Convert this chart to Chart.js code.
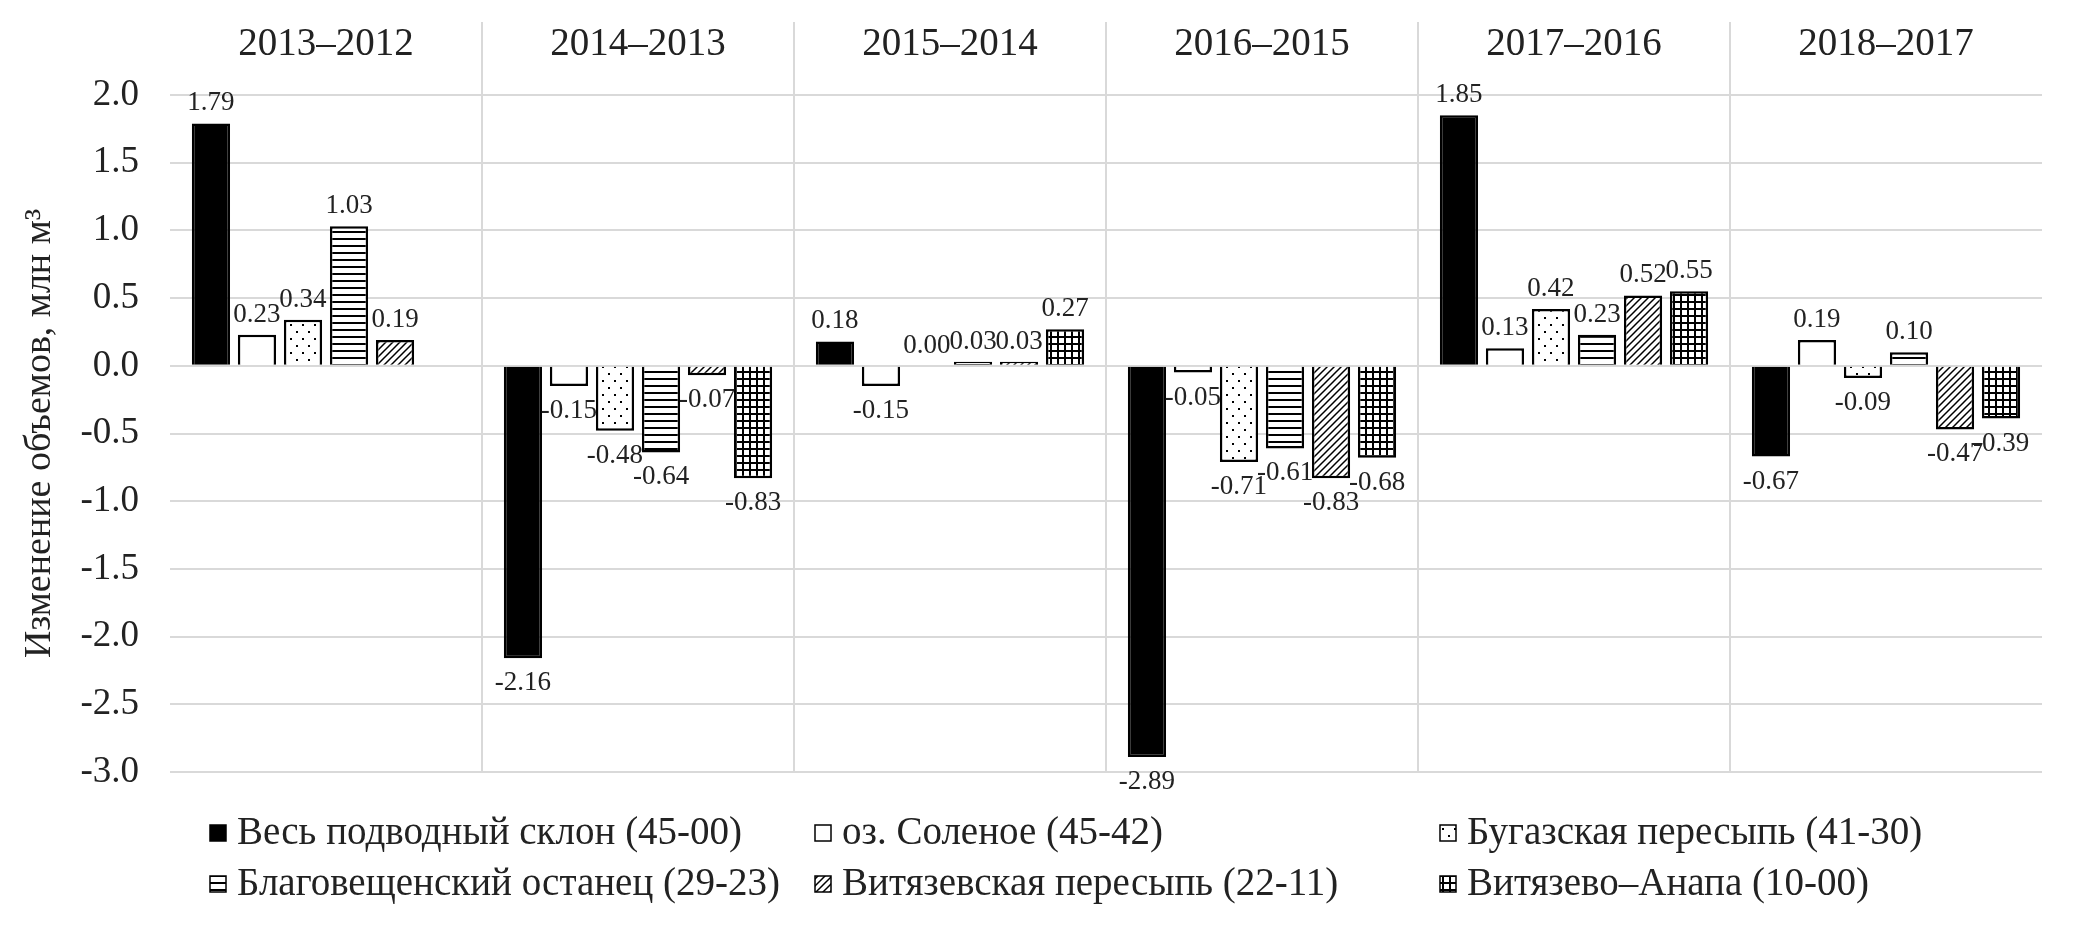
<!DOCTYPE html>
<html>
<head>
<meta charset="utf-8">
<script src="https://cdn.jsdelivr.net/npm/chart.js@4.4.0/dist/chart.umd.min.js"></script>
<style>
    body { margin: 0; background: #fff; }
</style>
</head>
<body>
<canvas id="my-chart" width="2074" height="929"></canvas>
<script>
const categories = ['2013–2012', '2014–2013', '2015–2014', '2016–2015', '2017–2016', '2018–2017'];
const seriesNames = [
    'Весь подводный склон (45-00)',
    'оз. Соленое (45-42)',
    'Бугазская пересыпь (41-30)',
    'Благовещенский останец (29-23)',
    'Витязевская пересыпь (22-11)',
    'Витязево–Анапа (10-00)'
];
const wholeSlope = [1.79, -2.16, 0.18, -2.89, 1.85, -0.67];
const lakeSolenoe = [0.23, -0.15, -0.15, -0.05, 0.13, 0.19];
const bugazSpit = [0.34, -0.48, 0.00, -0.71, 0.42, -0.09];
const blagoveshOutlier = [1.03, -0.64, 0.03, -0.61, 0.23, 0.10];
const vityazSpit = [0.19, -0.07, 0.03, -0.83, 0.52, -0.47];
const vityazAnapa = [null, -0.83, 0.27, -0.68, 0.55, -0.39];
const yTicksMin = -3.0;
const yTicksMax = 2.0;
const yTickStep = 0.5;

const seriesValues = [wholeSlope, lakeSolenoe, bugazSpit, blagoveshOutlier, vityazSpit, vityazAnapa];
const fontFamily = '"Liberation Serif", "Times New Roman", serif';
const textColor = '#222222';
const gridColor = '#d9d9d9';

let canvas = document.getElementById('my-chart');
let mainCtx = canvas.getContext('2d');

function makePattern(kind) {
    let w = 7, h = 7;
    if (kind === 'dots') { w = 12; h = 14; }
    let c = document.createElement('canvas');
    c.width = w;
    c.height = h;
    let g = c.getContext('2d');
    g.fillStyle = '#fff';
    g.fillRect(0, 0, w, h);
    g.fillStyle = '#000';
    g.strokeStyle = '#000';
    if (kind === 'dots') {
        g.fillRect(2, 2, 2, 2);
        g.fillRect(8, 9, 2, 2);
    } else if (kind === 'hlines') {
        g.fillRect(0, 0, w, 2);
    } else if (kind === 'grid') {
        g.fillRect(0, 0, w, 2);
        g.fillRect(0, 0, 2, h);
    } else if (kind === 'diag') {
        g.lineWidth = 1.5;
        g.beginPath();
        g.moveTo(0, h); g.lineTo(w, 0);
        g.moveTo(-1, 1); g.lineTo(1, -1);
        g.moveTo(w - 1, h + 1); g.lineTo(w + 1, h - 1);
        g.stroke();
    }
    return mainCtx.createPattern(c, 'repeat');
}

const fills = ['#000000', '#ffffff', makePattern('dots'), makePattern('hlines'), makePattern('diag'), makePattern('grid')];

// legend layout (not data)
const legendCols = [210, 815, 1440];
const legendRows = [833, 884];

const barLabels = {
    id: 'barLabels',
    afterDatasetsDraw(chart) {
        let ctx = chart.ctx;
        ctx.save();
        ctx.font = '27px ' + fontFamily;
        ctx.fillStyle = textColor;
        ctx.textAlign = 'center';
        ctx.textBaseline = 'alphabetic';
        chart.data.datasets.forEach((ds, i) => {
            let meta = chart.getDatasetMeta(i);
            meta.data.forEach((bar, j) => {
                let v = ds.data[j];
                if (v === null || v === undefined) return;
                if (v >= 0) {
                    ctx.fillText(v.toFixed(2), bar.x, bar.y - 13);
                } else {
                    ctx.fillText(v.toFixed(2), bar.x, bar.y + 32);
                }
            });
        });
        ctx.restore();
    }
};

const patternLegend = {
    id: 'patternLegend',
    afterDraw(chart) {
        let ctx = chart.ctx;
        ctx.save();
        ctx.font = '39px ' + fontFamily;
        ctx.textAlign = 'left';
        ctx.textBaseline = 'alphabetic';
        chart.data.datasets.forEach((ds, i) => {
            let x = legendCols[i % 3];
            let y = legendRows[Math.floor(i / 3)];
            ctx.fillStyle = ds.backgroundColor;
            ctx.fillRect(x, y - 8, 16, 16);
            ctx.strokeStyle = '#000';
            ctx.lineWidth = 1.5;
            ctx.strokeRect(x, y - 8, 16, 16);
            ctx.fillStyle = textColor;
            ctx.fillText(ds.label, x + 27, y + 11);
        });
        ctx.restore();
    }
};

let datasets = [];
for (let i = 0; i < seriesNames.length; i++) {
    datasets.push({
        label: seriesNames[i],
        data: seriesValues[i],
        backgroundColor: fills[i],
        borderColor: '#000000',
        borderWidth: 2.5,
        categoryPercentage: 0.885,
        barPercentage: 0.83
    });
}

Chart.defaults.font.family = fontFamily;

let volumeChart = new Chart(canvas, {
    type: 'bar',
    data: {
        labels: categories,
        datasets: datasets
    },
    options: {
        responsive: false,
        devicePixelRatio: 1,
        animation: false,
        layout: {
            padding: { left: 0, right: 32, top: 0, bottom: 157 }
        },
        plugins: {
            legend: { display: false },
            tooltip: { enabled: false }
        },
        scales: {
            x: {
                position: 'top',
                grid: {
                    offset: true,
                    drawTicks: true,
                    tickLength: 73,
                    lineWidth: 2,
                    color: (c) => (c.type === 'tick' && c.index > 0) ? gridColor : 'rgba(0,0,0,0)'
                },
                border: { display: false },
                ticks: {
                    padding: -46,
                    maxRotation: 0,
                    color: textColor,
                    font: { size: 39 }
                },
                afterFit: (s) => { s.height = 95; }
            },
            y: {
                min: yTicksMin,
                max: yTicksMax,
                grid: { color: gridColor, lineWidth: 2, drawTicks: false },
                border: { display: false },
                ticks: {
                    stepSize: yTickStep,
                    padding: 31,
                    color: textColor,
                    font: { size: 37 },
                    callback: (v) => Math.abs(v) < 1e-9 ? '0.0' : Number(v).toFixed(1)
                },
                title: {
                    display: true,
                    text: 'Изменение объемов, млн м³',
                    color: textColor,
                    font: { size: 38 },
                    padding: { top: 17, bottom: 0 }
                },
                afterFit: (s) => { s.width = 170; }
            }
        }
    },
    plugins: [barLabels, patternLegend]
});
</script>
</body>
</html>
